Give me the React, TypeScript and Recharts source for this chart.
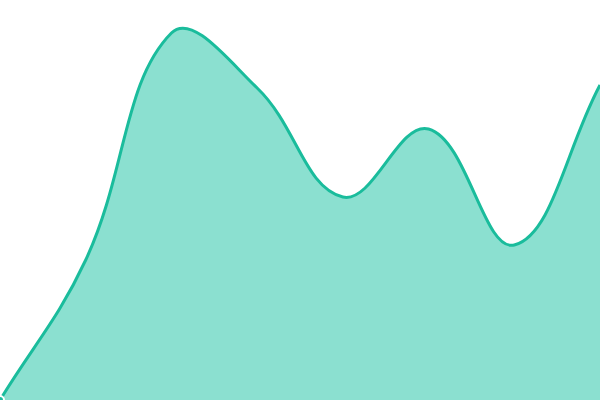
import { Area, AreaChart, XAxis, YAxis } from "recharts";

// Eight evenly spaced samples, no axes shown; the area fills the whole frame.
const labels = ["A", "B", "C", "D", "E", "F", "G", "H"];
const values = [0, 140, 367, 312, 203, 271, 155, 315];

const data = labels.map((label, i) => ({ label, value: values[i] }));

type Pt = { x: number; y: number };

// Spline with distance-weighted control points (tension 0.4), handed to Recharts
// as a d3-style curve factory. Points are buffered and drawn on lineEnd.
class Spline {
  _context: any;
  _t: number;
  _line = NaN;
  _pts: Pt[] = [];
  constructor(context: any, t: number) {
    this._context = context;
    this._t = t;
  }
  areaStart() { this._line = 0; }
  areaEnd() { this._line = NaN; }
  lineStart() { this._pts = []; }
  point(x: number, y: number) { this._pts.push({ x: +x, y: +y }); }
  lineEnd() {
    const ctx = this._context;
    const pts = this._pts;
    const n = pts.length;
    if (n) {
      if (this._line) ctx.lineTo(pts[0].x, pts[0].y);
      else ctx.moveTo(pts[0].x, pts[0].y);
    }
    if (n === 2) ctx.lineTo(pts[1].x, pts[1].y);
    if (n > 2) {
      const cps = pts.map((cur, i) => {
        const prev = pts[i - 1] || cur;
        const next = pts[i + 1] || cur;
        const d01 = Math.hypot(cur.x - prev.x, cur.y - prev.y);
        const d12 = Math.hypot(next.x - cur.x, next.y - cur.y);
        let s01 = d01 / (d01 + d12);
        let s12 = d12 / (d01 + d12);
        if (isNaN(s01)) s01 = 0;
        if (isNaN(s12)) s12 = 0;
        const fa = this._t * s01;
        const fb = this._t * s12;
        return {
          inX: cur.x - fa * (next.x - prev.x),
          inY: cur.y - fa * (next.y - prev.y),
          outX: cur.x + fb * (next.x - prev.x),
          outY: cur.y + fb * (next.y - prev.y),
        };
      });
      for (let i = 1; i < n; i++) {
        ctx.bezierCurveTo(cps[i - 1].outX, cps[i - 1].outY, cps[i].inX, cps[i].inY, pts[i].x, pts[i].y);
      }
    }
    if (this._line || (this._line !== 0 && n === 1)) ctx.closePath();
    this._line = 1 - this._line;
  }
}

const spline = (context: any) => new Spline(context, 0.4);

export default function App() {
  return (
    <div style={{ position: "absolute", top: 0, left: 0, width: 600, height: 400 }}>
      <AreaChart width={600} height={400} data={data} margin={{ top: 0, right: 0, bottom: 0, left: 0 }}>
        <XAxis dataKey="label" hide />
        <YAxis domain={[0, 400]} hide />
        <Area
          type={spline as any}
          dataKey="value"
          stroke="#1abc9c"
          strokeWidth={3}
          fill="#8be0d0"
          fillOpacity={1}
          dot={false}
          isAnimationActive={false}
        />
      </AreaChart>
    </div>
  );
}
